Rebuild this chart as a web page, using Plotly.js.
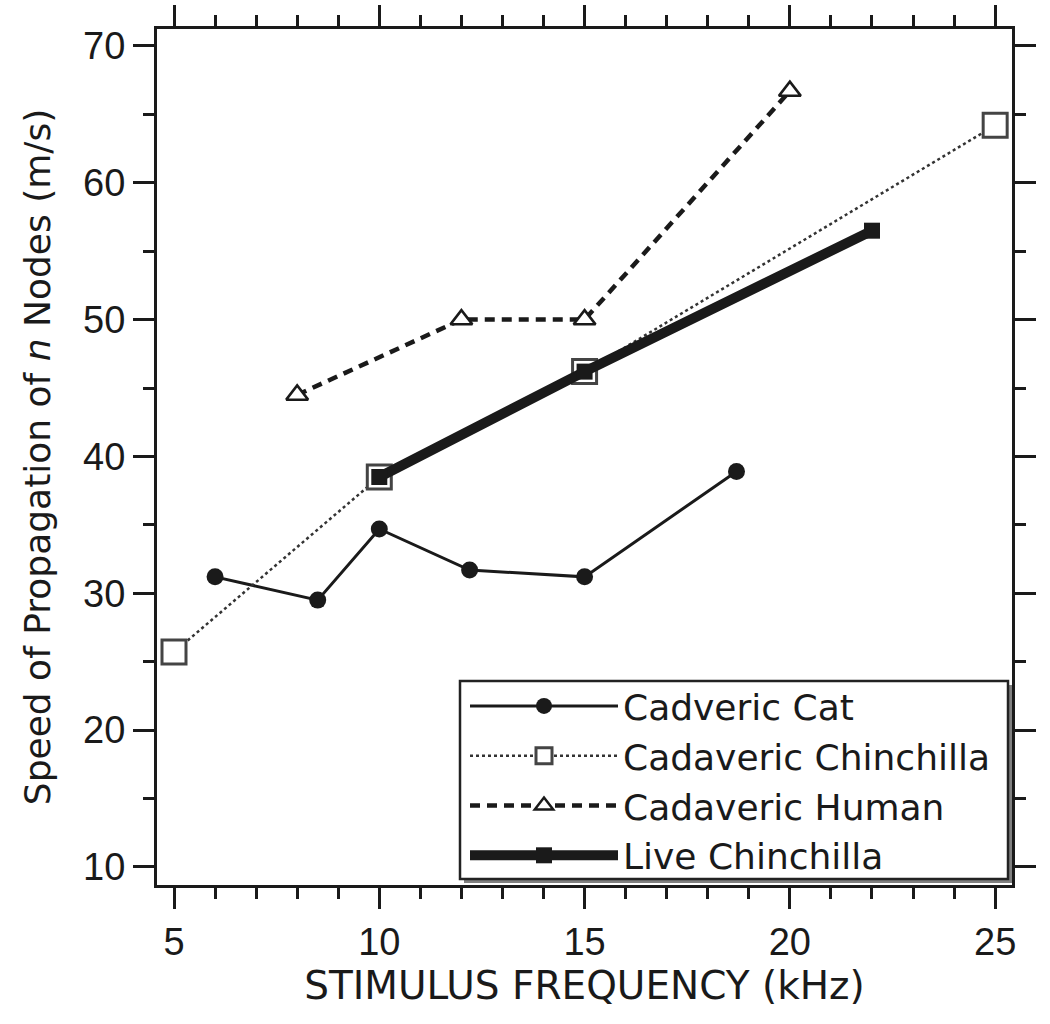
<!DOCTYPE html>
<html>
<head>
<meta charset="utf-8">
<script src="https://cdn.plot.ly/plotly-3.0.1.min.js"></script>
<style>html,body{margin:0;padding:0;background:#fff;}</style>
</head>
<body>
<div id="chart" style="width:1050px;height:1024px;"></div>
<script>
// Data
const catX = [6, 8.5, 10, 12.2, 15, 18.7];
const catY = [31.2, 29.5, 34.7, 31.7, 31.2, 38.9];

const cadChinX = [5, 10, 15, 25];
const cadChinY = [25.7, 38.5, 46.2, 64.2];

const humanX = [8, 12, 15, 20];
const humanY = [44.5, 50, 50, 66.7];

const liveChinX = [10, 15, 22];
const liveChinY = [38.5, 46.2, 56.5];

const seriesNames = ["Cadveric Cat", "Cadaveric Chinchilla", "Cadaveric Human", "Live Chinchilla"];
const xTicks = [5, 10, 15, 20, 25];
const yTicks = [10, 20, 30, 40, 50, 60, 70];

const FONT = "Liberation Sans, Arial, sans-serif";
const WIDE = "DejaVu Sans, Liberation Sans, sans-serif";
const INK = "#1a1a1a";

const traces = [
  {
    x: catX, y: catY, name: seriesNames[0], mode: "lines+markers", type: "scatter",
    line: {color: INK, width: 3},
    marker: {symbol: "circle", size: 17, color: INK}
  },
  {
    x: cadChinX, y: cadChinY, name: seriesNames[1], mode: "lines+markers", type: "scatter",
    line: {color: "#333", width: 2.5, dash: "dot"},
    marker: {symbol: "square", size: 24, color: "#fff", line: {color: "#444", width: 3}}
  },
  {
    x: humanX, y: humanY, name: seriesNames[2], mode: "lines+markers", type: "scatter",
    line: {color: INK, width: 4.5, dash: "10px,7px"},
    marker: {symbol: "triangle-up", size: 19, color: "#fff", line: {color: INK, width: 2.5}}
  },
  {
    x: liveChinX, y: liveChinY, name: seriesNames[3], mode: "lines+markers", type: "scatter",
    line: {color: INK, width: 10},
    marker: {symbol: "square", size: 16, color: INK}
  }
];

const axisCommon = {
  showgrid: false, zeroline: false,
  showline: true, linecolor: INK, linewidth: 3,
  mirror: "ticks",
  ticks: "outside", ticklen: 21, tickwidth: 3, tickcolor: INK,
  tickfont: {family: FONT, size: 38, color: INK}
};

const layout = {
  width: 1050, height: 1024,
  margin: {l: 157, r: 38, t: 29, b: 139},
  paper_bgcolor: "#fff", plot_bgcolor: "#fff",
  showlegend: true,
  xaxis: Object.assign({}, axisCommon, {
    range: [4.586, 25.41],
    tickmode: "array", tickvals: xTicks,
    minor: {dtick: 1, ticks: "outside", ticklen: 11, tickwidth: 3, tickcolor: INK, showgrid: false},
    title: {text: "STIMULUS FREQUENCY (kHz)", font: {family: WIDE, size: 39, color: INK}, standoff: 11}
  }),
  yaxis: Object.assign({}, axisCommon, {
    range: [8.68, 71.24],
    tickmode: "array", tickvals: yTicks,
    minor: {dtick: 5, ticks: "outside", ticklen: 11, tickwidth: 3, tickcolor: INK, showgrid: false},
    title: {text: "Speed of Propagation of <i>n</i> Nodes (m/s)", font: {family: WIDE, size: 36, color: INK}, standoff: 22}
  }),
  legend: {
    x: (465 - 157) / 855, y: (885 - 676) / 856, xanchor: "left", yanchor: "top",
    bgcolor: "rgba(0,0,0,0)", borderwidth: 0,
    font: {family: WIDE, size: 36, color: INK},
    itemwidth: 148, tracegroupgap: 0
  },
  shapes: [
    {type: "rect", xref: "paper", yref: "paper",
     x0: (464 - 157) / 855, x1: (1012 - 157) / 855, y0: (885 - 883) / 856, y1: (885 - 685) / 856,
     fillcolor: "#808080", line: {width: 0}, layer: "above"},
    {type: "rect", xref: "paper", yref: "paper",
     x0: (460 - 157) / 855, x1: (1008 - 157) / 855, y0: (885 - 879) / 856, y1: (885 - 681) / 856,
     fillcolor: "#fff", line: {color: "#222", width: 2.5}, layer: "above"}
  ]
};

Plotly.newPlot("chart", traces, layout, {displayModeBar: false, staticPlot: true});
</script>
</body>
</html>
